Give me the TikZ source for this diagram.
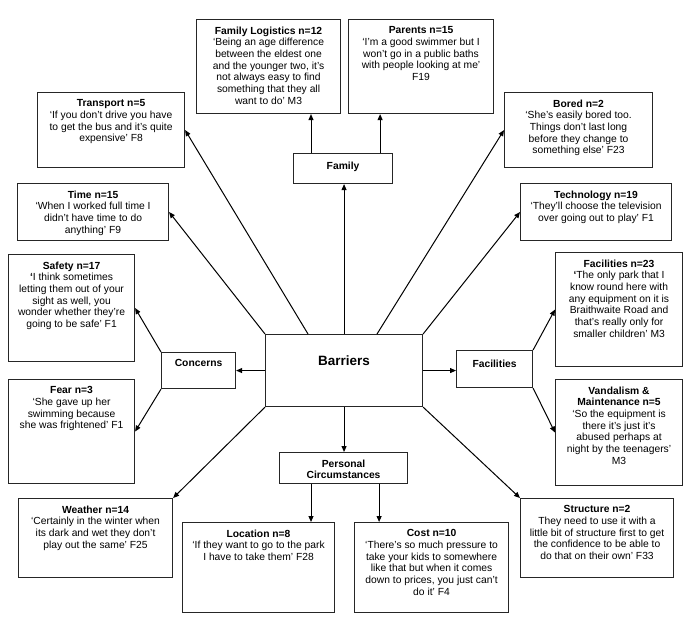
\documentclass[tikz,border=0pt]{standalone}
\usepackage{fontspec}
\setmainfont{Liberation Sans}
\usetikzlibrary{arrows.meta, calc}

% text block, top aligned inside a box of fixed size
\newcommand{\boxtxt}[4][7pt]{\parbox[c][#3][t]{#2}{\centering\vspace*{#1}#4\par}}

\begin{document}
\begin{tikzpicture}[
  x=1pt, y=-1pt,
  box/.style={draw=black!85, line width=1.1pt, inner sep=0pt, anchor=north west,
              font=\fontsize{10.3}{11.7}\selectfont},
  arr/.style={-{Triangle[length=6pt, width=5pt]}, line width=1pt},
]
  \useasboundingbox (0,0) rectangle (685,630);

  % centre and group boxes
  \node[box] (bar)  at (265,334) {\boxtxt[21pt]{157pt}{72pt}{\fontsize{13.5}{15}\selectfont\bfseries Barriers}};
  \node[box] (fam)  at (293,153) {\boxtxt[8pt]{99pt}{30pt}{\textbf{Family}}};
  \node[box] (conc) at (161,352) {\boxtxt{74pt}{36pt}{\textbf{Concerns}}};
  \node[box] (facn) at (456,350) {\boxtxt[9pt]{76pt}{37pt}{\textbf{Facilities}}};
  \node[box] (pers) at (279,452) {\boxtxt{128pt}{31pt}{\textbf{Personal\\Circumstances}}};

  % quote boxes
  \node[box] (flog) at (196,19) {\boxtxt{144pt}{94pt}{\textbf{Family Logistics n=12}\\‘Being an age difference\\between the eldest one\\and the younger two, it’s\\not always easy to find\\something that they all\\want to do’ M3}};
  \node[box] (par)  at (348,19) {\boxtxt{145pt}{94pt}{\textbf{Parents n=15}\\‘I’m a good swimmer but I\\won’t go in a public baths\\with people looking at me’\\F19}};
  \node[box] (tran) at (37,92)  {\boxtxt{147pt}{75pt}{\textbf{Transport n=5}\\‘If you don’t drive you have\\to get the bus and it’s quite\\expensive’ F8}};
  \node[box] (bor)  at (504,92) {\boxtxt{148pt}{75pt}{\textbf{Bored n=2}\\‘She’s easily bored too.\\Things don’t last long\\before they change to\\something else’ F23}};
  \node[box] (time) at (17,183) {\boxtxt{151pt}{57pt}{\textbf{Time n=15}\\‘When I worked full time I\\didn’t have time to do\\anything’ F9}};
  \node[box] (tech) at (520,183) {\boxtxt{151pt}{57pt}{\textbf{Technology n=19}\\‘They’ll choose the television\\over going out to play’ F1}};
  \node[box] (saf)  at (8,254)  {\boxtxt{126pt}{107pt}{\textbf{Safety n=17}\\\textbf{‘}I think sometimes\\letting them out of your\\sight as well, you\\wonder whether they’re\\going to be safe’ F1}};
  \node[box] (fac)  at (555,252) {\boxtxt{127pt}{114pt}{\textbf{Facilities n=23}\\\textbf{‘}The only park that I\\know round here with\\any equipment on it is\\Braithwaite Road and\\that’s really only for\\smaller children’ M3}};
  \node[box] (fear) at (8,379)  {\boxtxt{126pt}{104pt}{\textbf{Fear n=3}\\‘She gave up her\\swimming because\\she was frightened’ F1}};
  \node[box] (vand) at (555,379) {\boxtxt{127pt}{106pt}{\textbf{Vandalism \&\\Maintenance n=5}\\‘So the equipment is\\there it’s just it’s\\abused perhaps at\\night by the teenagers’\\M3}};
  \node[box] (wea)  at (18,498) {\boxtxt{154pt}{79pt}{\textbf{Weather n=14}\\‘Certainly in the winter when\\its dark and wet they don’t\\play out the same’ F25}};
  \node[box] (loc)  at (182,522) {\boxtxt{152pt}{90pt}{\textbf{Location n=8}\\‘If they want to go to the park\\I have to take them’ F28}};
  \node[box] (cost) at (354,522) {\boxtxt{154pt}{90pt}{\textbf{Cost n=10}\\‘There’s so much pressure to\\take your kids to somewhere\\like that but when it comes\\down to prices, you just can't\\do it’ F4}};
  \node[box] (str)  at (520,498) {\boxtxt{153pt}{79pt}{\textbf{Structure n=2}\\They need to use it with a\\little bit of structure first to get\\the confidence to be able to\\do that on their own’ F33}};

  % connector ends
  \coordinate (famL)  at ($(fam.north west)+(18,0)$);
  \coordinate (famR)  at ($(fam.north east)+(-13,0)$);
  \coordinate (barT1) at ($(bar.north west)+(43,0)$);
  \coordinate (barT2) at ($(bar.north west)+(112,0)$);
  \coordinate (persL) at ($(pers.south west)+(32,0)$);
  \coordinate (persR) at ($(pers.south east)+(-29,0)$);

  \draw[arr] (bar.north) -- (bar.north |- fam.south);
  \draw[arr] (famL) -- (famL |- flog.south);
  \draw[arr] (famR) -- (famR |- par.south);
  \draw[arr] (barT1) -- (tran.east);
  \draw[arr] (bar.north west) -- (time.east);
  \draw[arr] (barT2) -- (bor.west);
  \draw[arr] (bar.north east) -- (tech.west);
  \draw[arr] (bar.west) -- (bar.west -| conc.east);
  \draw[arr] (conc.north west) -- (saf.east);
  \draw[arr] (conc.south west) -- (fear.east);
  \draw[arr] (bar.east) -- (bar.east -| facn.west);
  \draw[arr] (facn.north east) -- (fac.west);
  \draw[arr] (facn.south east) -- (vand.west);
  \draw[arr] (bar.south west) -- (wea.north east);
  \draw[arr] (bar.south) -- (bar.south |- pers.north);
  \draw[arr] (persL) -- (persL |- loc.north);
  \draw[arr] (persR) -- (persR |- cost.north);
  \draw[arr] (bar.south east) -- (str.north west);
\end{tikzpicture}
\end{document}
